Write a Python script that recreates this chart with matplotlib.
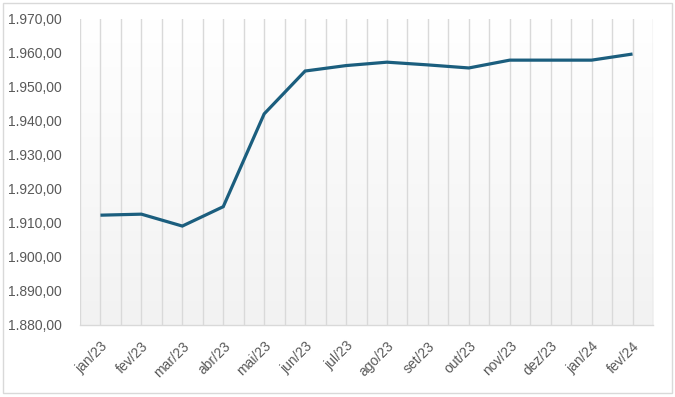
import matplotlib
matplotlib.use("Agg")
import matplotlib.pyplot as plt
import numpy as np
from matplotlib.patches import Rectangle
from matplotlib.ticker import FuncFormatter, MultipleLocator

plt.rcParams["font.family"] = ["Liberation Sans", "DejaVu Sans"]

months = ["jan/23", "fev/23", "mar/23", "abr/23", "mai/23", "jun/23", "jul/23",
          "ago/23", "set/23", "out/23", "nov/23", "dez/23", "jan/24", "fev/24"]
values = [1912.3, 1912.6, 1909.1, 1914.8, 1942.1, 1954.7, 1956.3,
          1957.3, 1956.5, 1955.6, 1957.9, 1957.9, 1957.9, 1959.7]

LINE = "#1b5e7e"
GRID = "#d9d9d9"
TEXT = "#595959"


def br_fmt(v, _):
    s = f"{v:,.2f}"
    return s.replace(",", "X").replace(".", ",").replace("X", ".")


fig = plt.figure(figsize=(6.75, 3.97), dpi=100)
ax = fig.add_axes([80 / 675, 1 - 325 / 397, 573 / 675, 306 / 397])

# outer chart border
fig.patches.append(Rectangle((3 / 675, 4 / 397), 669 / 675, 390 / 397,
                             transform=fig.transFigure, fill=False,
                             edgecolor="#d9d9d9", linewidth=1.0))

x = np.arange(len(months))
ax.set_xlim(-0.5, len(months) - 0.5)
ax.set_ylim(1880, 1970)

# soft vertical gradient in the plot area
grad = np.linspace(0, 1, 256).reshape(-1, 1)
ax.imshow(grad, extent=[-0.5, len(months) - 0.5, 1880, 1970], aspect="auto",
          cmap=matplotlib.colors.LinearSegmentedColormap.from_list(
              "bg", ["#f2f2f2", "#ffffff"]),
          origin="lower", zorder=0)

for g in np.arange(-0.5, len(months), 0.5):
    ax.axvline(g, color=GRID, linewidth=1.0, zorder=1)

ax.plot(x, values, color=LINE, linewidth=2.3, zorder=3,
        solid_capstyle="butt", solid_joinstyle="miter")

ax.set_xticks(x)
ax.set_xticklabels(months, rotation=45, ha="right", rotation_mode="anchor")
ax.yaxis.set_major_locator(MultipleLocator(10))
ax.yaxis.set_major_formatter(FuncFormatter(br_fmt))
ax.tick_params(axis="both", length=0, labelsize=10, colors=TEXT)
ax.tick_params(axis="y", pad=13)
ax.tick_params(axis="x", pad=10)

for side in ["top", "left", "right"]:
    ax.spines[side].set_visible(False)
ax.spines["bottom"].set_color(GRID)
ax.spines["bottom"].set_linewidth(1.0)

fig.savefig("out.png", dpi=100)
